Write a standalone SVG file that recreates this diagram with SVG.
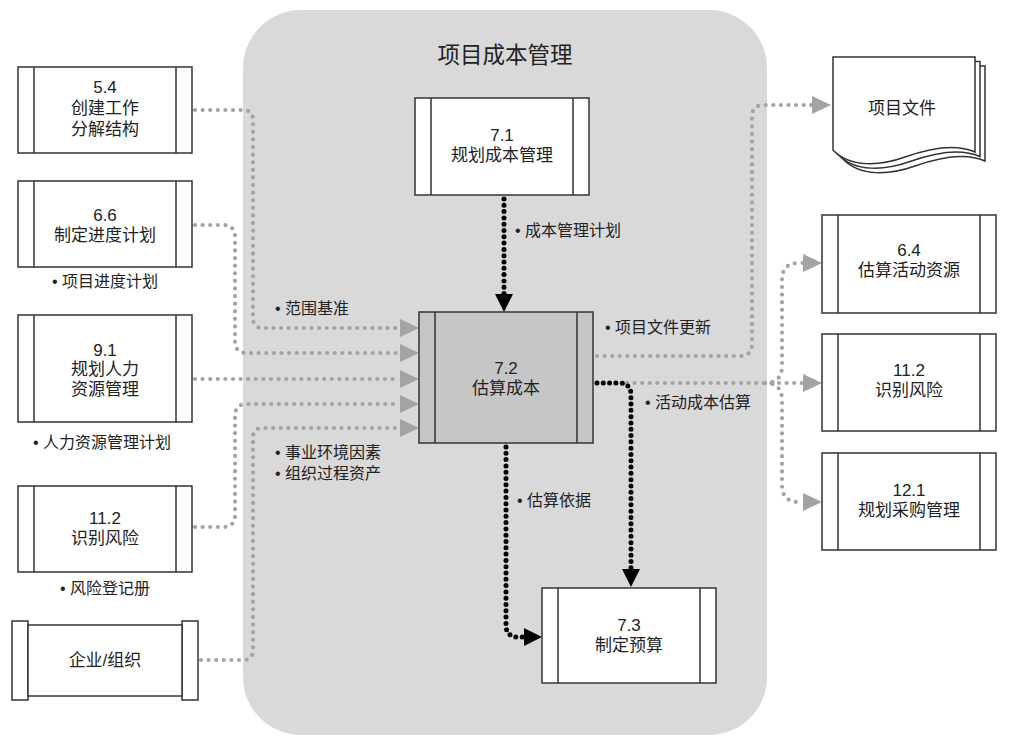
<svg xmlns="http://www.w3.org/2000/svg" width="1013" height="743" viewBox="0 0 1013 743">
<defs>
<style>
text{font-family:"Liberation Sans","Noto Sans CJK SC",sans-serif;fill:#222;font-size:17px}
.c{text-anchor:middle}
.lbl{font-size:16px}
.box{fill:#fff;stroke:#333;stroke-width:1.5}
.dark{fill:#c6c6c6;stroke:#333;stroke-width:1.5}
.bar{stroke:#333;stroke-width:1.5}
.g{fill:none;stroke:#a3a3a3;stroke-width:4.2;stroke-dasharray:0 7.6;stroke-linecap:round}
.b{fill:none;stroke:#000;stroke-width:5;stroke-dasharray:0 6.3;stroke-linecap:round}
.doc{fill:#fff;stroke:#333;stroke-width:1.5}
</style>
<marker id="ag" markerUnits="userSpaceOnUse" markerWidth="20" markerHeight="20" refX="0" refY="9" orient="auto" viewBox="0 0 20 18"><path d="M0,0 L19,9 L0,18 Z" fill="#a3a3a3"/></marker>
<marker id="ab" markerUnits="userSpaceOnUse" markerWidth="20" markerHeight="20" refX="0" refY="9" orient="auto" viewBox="0 0 20 18"><path d="M0,0 L18,9 L0,18 Z" fill="#000"/></marker>
</defs>
<rect width="1013" height="743" fill="#fff"/>
<g id="panel">
<rect x="243" y="10" width="524" height="725" rx="58" fill="#d9d9d9"/>
<text class="c" x="505" y="63" style="font-size:22.5px">项目成本管理</text>
</g>
<g id="connectors">
<path class="g" d="M195,110 H243 Q253,110 253,120 V318 Q253,328 263,328 H400" marker-end="url(#ag)"/>
<path class="g" d="M195,225 H223 Q235,225 235,237 V341 Q235,353 247,353 H400" marker-end="url(#ag)"/>
<path class="g" d="M195,379 H400" marker-end="url(#ag)"/>
<path class="g" d="M195,527 H223 Q235,527 235,515 V416 Q235,404 247,404 H400" marker-end="url(#ag)"/>
<path class="g" d="M201,660 H243 Q253,660 253,650 V438 Q253,428 263,428 H400" marker-end="url(#ag)"/>
<path class="g" d="M597,356 H740 Q752,356 752,344 V117 Q752,105 764,105 H812" marker-end="url(#ag)"/>
<path class="g" d="M627,383 H803" marker-end="url(#ag)"/>
<path class="g" d="M765,383 Q782,383 782,366 V280 Q782,263 799,263 H803" marker-end="url(#ag)"/>
<path class="g" d="M765,383 Q782,383 782,400 V485 Q782,502 799,502 H803" marker-end="url(#ag)"/>
<path class="b" d="M504,199 V294" marker-end="url(#ab)"/>
<path class="b" d="M597,383 H619 Q631,383 631,395 V569" marker-end="url(#ab)"/>
<path class="b" d="M506,447 V625 Q506,637 518,637 H524" marker-end="url(#ab)"/>
</g>
<g id="n54">
<rect class="box" x="18" y="67" width="174" height="86"/>
<path class="bar" d="M34,67 V153 M176,67 V153"/>
<text class="c" x="105" y="93">5.4</text>
<text class="c" x="105" y="114">创建工作</text>
<text class="c" x="105" y="135">分解结构</text>
</g>
<g id="n66">
<rect class="box" x="18" y="181" width="174" height="86"/>
<path class="bar" d="M34,181 V267 M176,181 V267"/>
<text class="c" x="105" y="221">6.6</text>
<text class="c" x="105" y="241">制定进度计划</text>
<text class="c lbl" x="105" y="287">• 项目进度计划</text>
</g>
<g id="n91">
<rect class="box" x="18" y="315" width="174" height="107"/>
<path class="bar" d="M34,315 V422 M176,315 V422"/>
<text class="c" x="105" y="356">9.1</text>
<text class="c" x="105" y="375">规划人力</text>
<text class="c" x="105" y="395">资源管理</text>
<text class="c lbl" x="102" y="448">• 人力资源管理计划</text>
</g>
<g id="n112a">
<rect class="box" x="18" y="486" width="174" height="86"/>
<path class="bar" d="M34,486 V572 M176,486 V572"/>
<text class="c" x="105" y="524">11.2</text>
<text class="c" x="105" y="544">识别风险</text>
<text class="c lbl" x="105" y="594">• 风险登记册</text>
</g>
<g id="org">
<rect class="box" x="12" y="621" width="16" height="79"/>
<rect class="box" x="182" y="621" width="16" height="79"/>
<rect class="box" x="28" y="625" width="154" height="71"/>
<text class="c" x="105" y="666">企业/组织</text>
</g>
<g id="n71">
<rect class="box" x="415" y="98" width="174" height="97"/>
<path class="bar" d="M431,98 V195 M573,98 V195"/>
<text class="c" x="502" y="141">7.1</text>
<text class="c" x="502" y="161">规划成本管理</text>
</g>
<g id="n72">
<rect class="dark" x="419" y="312" width="174" height="131"/>
<path class="bar" d="M435,312 V443 M577,312 V443"/>
<text class="c" x="506" y="374">7.2</text>
<text class="c" x="506" y="394">估算成本</text>
</g>
<g id="n73">
<rect class="box" x="542" y="588" width="174" height="95"/>
<path class="bar" d="M558,588 V683 M700,588 V683"/>
<text class="c" x="629" y="631">7.3</text>
<text class="c" x="629" y="651">制定预算</text>
</g>
<g id="docs">
<path class="doc" transform="translate(10,9)" d="M833,57 H975 V152 C955,143 930,148 905,157 C880,166 850,168 833,150 Z"/>
<path class="doc" transform="translate(5,4.5)" d="M833,57 H975 V152 C955,143 930,148 905,157 C880,166 850,168 833,150 Z"/>
<path class="doc" d="M833,57 H975 V152 C955,143 930,148 905,157 C880,166 850,168 833,150 Z"/>
<text class="c" x="902" y="114">项目文件</text>
</g>
<g id="n64">
<rect class="box" x="822" y="215" width="174" height="98"/>
<path class="bar" d="M838,215 V313 M980,215 V313"/>
<text class="c" x="909" y="256">6.4</text>
<text class="c" x="909" y="276">估算活动资源</text>
</g>
<g id="n112b">
<rect class="box" x="822" y="334" width="174" height="97"/>
<path class="bar" d="M838,334 V431 M980,334 V431"/>
<text class="c" x="909" y="376">11.2</text>
<text class="c" x="909" y="396">识别风险</text>
</g>
<g id="n121">
<rect class="box" x="822" y="453" width="174" height="97"/>
<path class="bar" d="M838,453 V550 M980,453 V550"/>
<text class="c" x="909" y="496">12.1</text>
<text class="c" x="909" y="516">规划采购管理</text>
</g>
<g id="labels">
<text class="lbl" x="275" y="314">• 范围基准</text>
<text class="lbl" x="275" y="458">• 事业环境因素</text>
<text class="lbl" x="275" y="479">• 组织过程资产</text>
<text class="lbl" x="515" y="236">• 成本管理计划</text>
<text class="lbl" x="605" y="333">• 项目文件更新</text>
<text class="lbl" x="645" y="408">• 活动成本估算</text>
<text class="lbl" x="517" y="506">• 估算依据</text>
</g>
</svg>
